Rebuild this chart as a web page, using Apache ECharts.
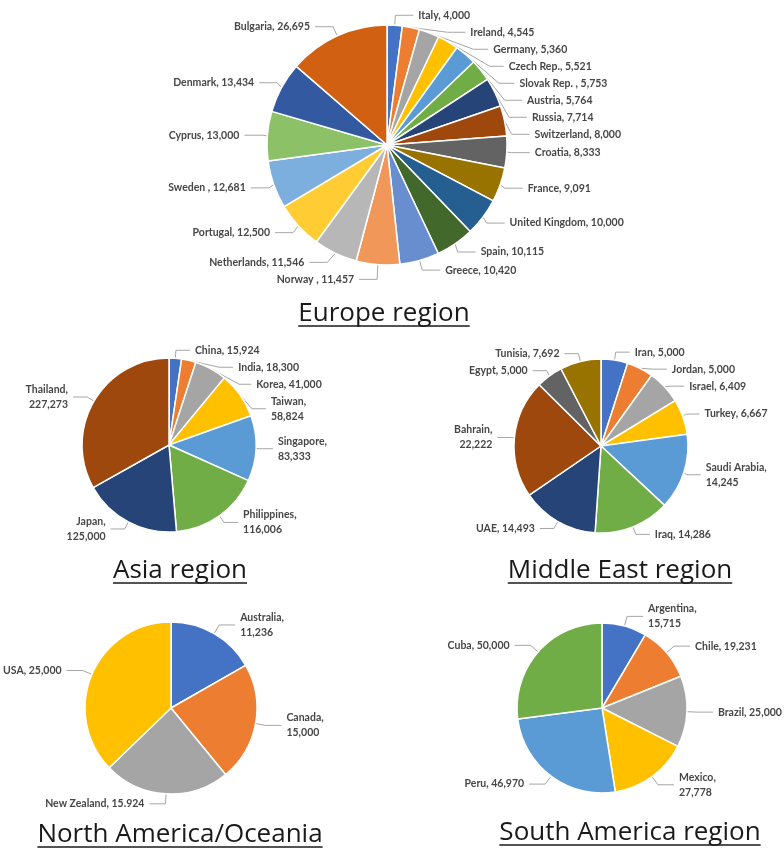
<!DOCTYPE html>
<html>
<head>
<meta charset="utf-8">
<script src="https://cdn.jsdelivr.net/npm/echarts@6/dist/echarts.min.js"></script>
<style>html,body{margin:0;padding:0;background:#fff}#c{width:784px;height:850px}</style>
</head>
<body>
<div id="c"></div>
<script>
// ---- Data ----
const europeNames = ["Italy","Ireland","Germany","Czech Rep.","Slovak Rep. ","Austria","Russia","Switzerland","Croatia","France","United Kingdom","Spain","Greece","Norway ","Netherlands","Portugal","Sweden ","Cyprus","Denmark","Bulgaria"];
const europeValues = [4000,4545,5360,5521,5753,5764,7714,8000,8333,9091,10000,10115,10420,11457,11546,12500,12681,13000,13434,26695];

const asiaNames = ["China","India","Korea","Taiwan","Singapore","Philippines","Japan","Thailand"];
const asiaValues = [15924,18300,41000,58824,83333,116006,125000,227273];

const meNames = ["Iran","Jordan","Israel","Turkey","Saudi Arabia","Iraq","UAE","Bahrain","Egypt","Tunisia"];
const meValues = [5000,5000,6409,6667,14245,14286,14493,22222,5000,7692];

const naNames = ["Australia","Canada","New Zealand","USA"];
const naValues = [11236,15000,15924,25000];

const saNames = ["Argentina","Chile","Brazil","Mexico","Peru","Cuba"];
const saValues = [15715,19231,25000,27778,46970,50000];

const titles = ["Europe region","Asia region","Middle East region","North America/Oceania","South America region"];

// labels that break onto two lines in the original
const twoLine = ["Thailand","Taiwan","Singapore","Philippines","Japan","Saudi Arabia","Bahrain","Australia","Canada","Argentina","Mexico"];
// value text as printed in the original where it differs
const valueTextOverride = {"New Zealand":"15.924"};

// ---- Styling ----
const palette = ['#4472C4','#ED7D31','#A5A5A5','#FFC000','#5B9BD5','#70AD47','#264478','#9E480E','#636363','#997300',
                 '#255E91','#43682B','#698ED0','#F1975A','#B7B7B7','#FFCD33','#7CAFDD','#8CC168','#335AA1','#D26012'];

function fmt(v){ return v.toLocaleString('en-US'); }
function mkData(names, values){
  return names.map((n,i)=>({name:n, value:values[i], itemStyle:{color:palette[i % palette.length]}}));
}

function pieSeries(names, values, center, radius, len, len2){
  return {
    type:'pie',
    center:center,
    radius:radius,
    startAngle:90,
    clockwise:true,
    animation:false,
    data:mkData(names, values),
    itemStyle:{borderColor:'#fff', borderWidth:1.5},
    label:{
      show:true,
      position:'outside',
      color:'#474747',
      fontFamily:'Lato',
      fontSize:10.5,
      fontWeight:'bold',
      lineHeight:15,
      align:'center',
      overflow:'none',
      formatter:function(p){
        const vt = valueTextOverride[p.name] || fmt(p.value);
        return twoLine.indexOf(p.name) >= 0 ? p.name + ',\n' + vt : p.name + ', ' + vt;
      }
    },
    labelLine:{show:true, length:len, length2:len2, lineStyle:{color:'#A6A6A6', width:1}}
  };
}

const chart = echarts.init(document.getElementById('c'), null, {renderer:'canvas'});

// [center x, baseline y]
const titlePos = [[384,322],[180,579],[620,579],[180,843],[630,841]];
const ctx = document.createElement('canvas').getContext('2d');
const titleSize = 26;
const titleFont = titleSize + 'px "Open Sans"';
ctx.font = titleFont;
const graphics = [];
titles.forEach((t,i)=>{
  const [x,y] = titlePos[i];
  const w = ctx.measureText(t).width;
  graphics.push({type:'text', left:x - w/2, top:y - titleSize*0.83, style:{text:t, font:titleFont, fill:'#1a1a1a'}});
  graphics.push({type:'line', shape:{x1:x-w/2, y1:y+4, x2:x+w/2, y2:y+4}, style:{stroke:'#1a1a1a', lineWidth:1.6}});
});

chart.setOption({
  backgroundColor:'#fff',
  graphic:graphics,
  series:[
    pieSeries(europeNames, europeValues, [387,145], 120, 10, 18),
    pieSeries(asiaNames, asiaValues, [169,445], 87, 8, 14),
    pieSeries(meNames, meValues, [601,446], 87, 8, 14),
    pieSeries(naNames, naValues, [171,708], 86, 10, 16),
    pieSeries(saNames, saValues, [602,708], 85, 10, 16)
  ]
});
</script>
</body>
</html>
